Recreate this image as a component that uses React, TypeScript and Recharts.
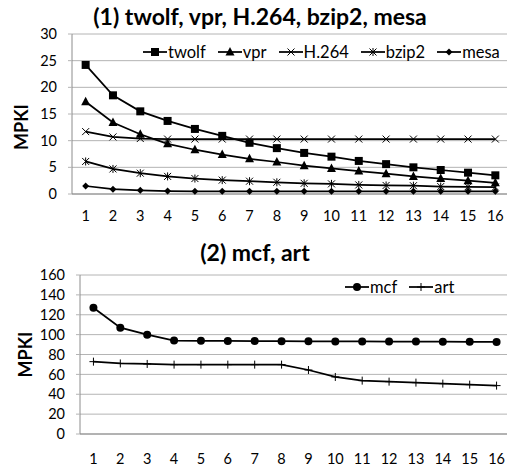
import React from 'react';
import { LineChart, Line, XAxis, YAxis, CartesianGrid, Legend } from 'recharts';

// number of ways (x axis) shared by both panels
const ways = [1, 2, 3, 4, 5, 6, 7, 8, 9, 10, 11, 12, 13, 14, 15, 16];

// panel (1)
const twolf = [24.2, 18.5, 15.5, 13.7, 12.2, 10.9, 9.6, 8.6, 7.7, 7.0, 6.2, 5.6, 5.0, 4.5, 4.0, 3.5];
const vpr = [17.3, 13.4, 11.2, 9.4, 8.3, 7.4, 6.6, 6.0, 5.3, 4.8, 4.3, 3.8, 3.3, 2.9, 2.5, 2.1];
const h264 = [11.7, 10.7, 10.4, 10.3, 10.3, 10.3, 10.3, 10.3, 10.3, 10.3, 10.3, 10.3, 10.3, 10.3, 10.3, 10.3];
const bzip2 = [6.1, 4.7, 3.9, 3.3, 2.9, 2.6, 2.4, 2.2, 2.0, 1.9, 1.7, 1.6, 1.55, 1.4, 1.35, 1.3];
const mesa = [1.5, 0.9, 0.7, 0.55, 0.5, 0.5, 0.5, 0.5, 0.5, 0.5, 0.5, 0.5, 0.5, 0.5, 0.5, 0.5];
const ticks1 = [0, 5, 10, 15, 20, 25, 30];

// panel (2)
const mcf = [127, 107, 100, 94, 93.8, 93.6, 93.5, 93.4, 93.3, 93.2, 93.1, 93, 93, 92.9, 92.8, 92.7];
const art = [72.8, 71, 70.5, 69.8, 69.8, 69.8, 69.8, 69.8, 64.4, 57.4, 53.7, 52.7, 51.7, 50.7, 49.7, 48.7];
const ticks2 = [0, 20, 40, 60, 80, 100, 120, 140, 160];

const FONT = 'Lato, "Open Sans", sans-serif';
const GRID = '#b4b4b4';
const AXIS = '#8c8c8c';

type SeriesDef = { key: string; name: string; kind: string; values: number[] };

const panel1: SeriesDef[] = [
  { key: 'twolf', name: 'twolf', kind: 'square', values: twolf },
  { key: 'vpr', name: 'vpr', kind: 'triangle', values: vpr },
  { key: 'h264', name: 'H.264', kind: 'cross', values: h264 },
  { key: 'bzip2', name: 'bzip2', kind: 'star', values: bzip2 },
  { key: 'mesa', name: 'mesa', kind: 'diamond', values: mesa },
];

const panel2: SeriesDef[] = [
  { key: 'mcf', name: 'mcf', kind: 'circle', values: mcf },
  { key: 'art', name: 'art', kind: 'plus', values: art },
];

const toRows = (defs: SeriesDef[]) =>
  ways.map((w, i) => {
    const row: Record<string, number> = { way: w };
    defs.forEach(d => { row[d.key] = d.values[i]; });
    return row;
  });

const Marker = ({ kind, cx, cy }: { kind: string; cx: number; cy: number }) => {
  switch (kind) {
    case 'square':
      return <rect x={cx - 4} y={cy - 4} width={8} height={8} fill="#000" />;
    case 'triangle':
      return <polygon points={`${cx},${cy - 5} ${cx + 4.5},${cy + 3.5} ${cx - 4.5},${cy + 3.5}`} fill="#000" />;
    case 'cross':
      return <path d={`M${cx - 3.5},${cy - 3.5}L${cx + 3.5},${cy + 3.5}M${cx + 3.5},${cy - 3.5}L${cx - 3.5},${cy + 3.5}`} stroke="#000" strokeWidth={1} fill="none" />;
    case 'star':
      return <path d={`M${cx - 3.5},${cy - 3.5}L${cx + 3.5},${cy + 3.5}M${cx + 3.5},${cy - 3.5}L${cx - 3.5},${cy + 3.5}M${cx},${cy - 4}L${cx},${cy + 4}`} stroke="#000" strokeWidth={1} fill="none" />;
    case 'diamond':
      return <polygon points={`${cx},${cy - 3.5} ${cx + 3.5},${cy} ${cx},${cy + 3.5} ${cx - 3.5},${cy}`} fill="#000" />;
    case 'circle':
      return <circle cx={cx} cy={cy} r={4} fill="#000" />;
    case 'plus':
      return <path d={`M${cx - 4},${cy}L${cx + 4},${cy}M${cx},${cy - 4}L${cx},${cy + 4}`} stroke="#000" strokeWidth={1} fill="none" />;
    default:
      return null;
  }
};

const LegendRow = ({ defs }: { defs: SeriesDef[] }) => (
  <div style={{ display: 'flex', fontFamily: FONT, fontSize: 16.5, color: '#000', lineHeight: '18px' }}>
    {defs.map(d => (
      <div key={d.key} style={{ display: 'flex', alignItems: 'center', marginRight: 12 }}>
        <svg width={24} height={12}>
          <line x1={0} y1={6} x2={24} y2={6} stroke="#000" strokeWidth={1.75} />
          <Marker kind={d.kind} cx={12} cy={6} />
        </svg>
        <span style={{ marginLeft: 1 }}>{d.name}</span>
      </div>
    ))}
  </div>
);

const mpkiLabel = (dx: number, dy: number) => (props: any) => {
  const vb = props.viewBox;
  const x = vb.x + dx;
  const y = vb.y + vb.height / 2 + dy;
  return (
    <text x={x} y={y} transform={`rotate(-90, ${x}, ${y})`} textAnchor="middle" dominantBaseline="central"
      fontFamily={FONT} fontWeight="bold" fontSize={18} fill="#000">MPKI</text>
  );
};

type PanelProps = {
  defs: SeriesDef[];
  ticks: number[];
  width: number;
  height: number;
  margin: { top: number; right: number; bottom: number; left: number };
  yWidth: number;
  xHeight: number;
  xGap: number;
  labelDx: number;
  labelDy: number;
  legendPos: { top: number; left: number };
};

const Panel = ({ defs, ticks, width, height, margin, yWidth, xHeight, xGap, labelDx, labelDy, legendPos }: PanelProps) => (
  <LineChart width={width} height={height} data={toRows(defs)} margin={margin}>
    <CartesianGrid vertical={false} stroke={GRID} />
    <XAxis dataKey="way" type="number" domain={[0.5, 16.5]} ticks={ways} interval={0}
      height={xHeight} tickSize={0} tickMargin={xGap} tickLine={false}
      axisLine={{ stroke: AXIS }} tick={{ fontFamily: FONT, fontSize: 14.5, fill: '#000' }} />
    <YAxis domain={[ticks[0], ticks[ticks.length - 1]]} ticks={ticks} interval={0} width={yWidth}
      tickSize={4} tickMargin={11} tickLine={{ stroke: GRID }} axisLine={{ stroke: AXIS }}
      tick={{ fontFamily: FONT, fontSize: 14.5, fill: '#000' }}
      label={{ content: mpkiLabel(labelDx, labelDy) }} />
    <Legend layout="horizontal" verticalAlign="middle" align="center"
      wrapperStyle={{ top: legendPos.top, left: legendPos.left, width: 'auto' }}
      content={() => <LegendRow defs={defs} />} />
    {defs.map(d => (
      <Line key={d.key} dataKey={d.key} name={d.name} type="linear" stroke="#000" strokeWidth={1.75}
        isAnimationActive={false} legendType="none"
        dot={(p: any) => <Marker key={`${d.key}-${p.index}`} kind={d.kind} cx={p.cx} cy={p.cy} />}
        activeDot={false} />
    ))}
  </LineChart>
);

const titleStyle: React.CSSProperties = {
  position: 'absolute', fontFamily: FONT, fontWeight: 'bold', fontSize: 23, color: '#000',
  whiteSpace: 'nowrap', transform: 'translate(-50%, -50%)', lineHeight: '26px',
};

export default function App() {
  return (
    <div style={{ position: 'absolute', left: 0, top: 0, width: 507, height: 471, overflow: 'hidden', background: '#fff' }}>
      <div style={{ position: 'absolute', left: 0, top: 0 }}>
        <Panel defs={panel1} ticks={ticks1} width={510} height={232}
          margin={{ top: 34, right: 1, bottom: 2, left: 0 }} yWidth={72} xHeight={36} xGap={17}
          labelDx={21} labelDy={13} legendPos={{ top: 43, left: 143 }} />
      </div>
      <div style={{ position: 'absolute', left: 0, top: 232 }}>
        <Panel defs={panel2} ticks={ticks2} width={510} height={239}
          margin={{ top: 43, right: 0, bottom: 2, left: 0 }} yWidth={80} xHeight={35} xGap={20}
          labelDx={25} labelDy={0} legendPos={{ top: 46, left: 345 }} />
      </div>
      <div style={{ ...titleStyle, left: 260, top: 16 }}>(1) twolf, vpr, H.264, bzip2, mesa</div>
      <div style={{ ...titleStyle, left: 255, top: 252 }}>(2) mcf, art</div>
    </div>
  );
}
